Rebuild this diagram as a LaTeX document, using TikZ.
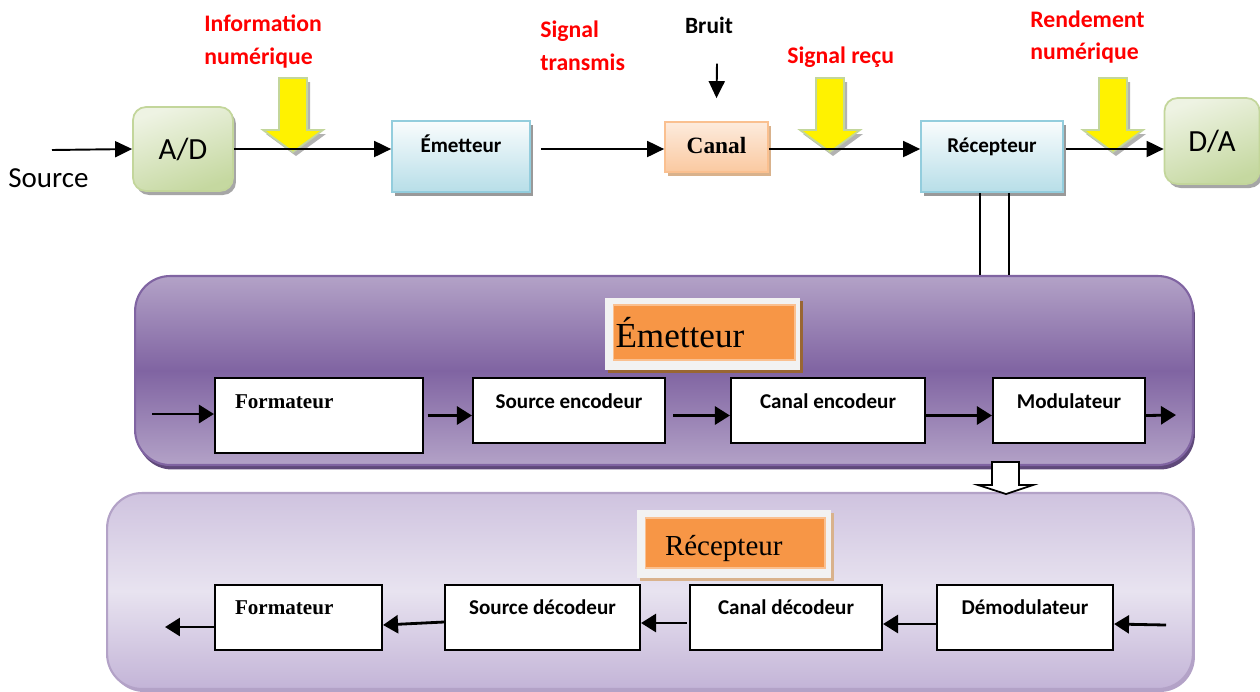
\documentclass[tikz,border=0pt]{standalone}
\usepackage{fontspec}
\setmainfont{Liberation Serif}
\setsansfont{Carlito}
\usetikzlibrary{arrows.meta,shadows,calc}

\definecolor{rouge}{HTML}{FF0000}
\definecolor{vertclair}{HTML}{EEF3E3}
\definecolor{vertfonce}{HTML}{C5D8A0}
\definecolor{vertbord}{HTML}{C3D69B}
\definecolor{bleuclair}{HTML}{F9FCFD}
\definecolor{bleufonce}{HTML}{B7DEE8}
\definecolor{bleubord}{HTML}{93CDDD}
\definecolor{orclair}{HTML}{FDEBDD}
\definecolor{orfonce}{HTML}{FAC9A0}
\definecolor{orbord}{HTML}{FAC090}
\definecolor{orange2}{HTML}{F79646}
\definecolor{violet}{HTML}{8064A2}
\definecolor{violetclair}{HTML}{B3A2C7}
\definecolor{violetfonce}{HTML}{5F497A}
\definecolor{lavande}{HTML}{E8E3F0}
\definecolor{lavande2}{HTML}{C3B4D7}

\tikzset{
  fleche/.style={line width=1.1pt,-{Triangle[length=3.4mm,width=3.2mm]}},
  fleche2/.style={line width=1.6pt,-{Triangle[length=3mm,width=3.6mm]}},
  haut/.style={text height=2.4mm,text depth=#1},
  convbox/.style={draw=vertbord,line width=1pt,rounded corners=2.6mm,
    top color=vertclair,bottom color=vertfonce,shading angle=20,
    drop shadow={shadow xshift=0.6mm,shadow yshift=-0.8mm,fill=gray!70,opacity=1},
    font=\sffamily\fontsize{17.5}{20}\selectfont},
  bleubox/.style={draw=bleubord,line width=1pt,top color=bleuclair,bottom color=bleufonce,
    drop shadow={shadow xshift=0.6mm,shadow yshift=-0.8mm,fill=gray!80,opacity=1},
    font=\sffamily\bfseries\fontsize{12}{14}\selectfont},
  canalbox/.style={draw=orbord,line width=1pt,top color=orclair,bottom color=orfonce,
    drop shadow={shadow xshift=0.6mm,shadow yshift=-0.8mm,fill=brown!60,opacity=1},
    font=\bfseries\fontsize{13.3}{15}\selectfont},
  etiq/.style={text=rouge,font=\sffamily\bfseries\fontsize{13.5}{18.7}\selectfont,
    align=left,anchor=west,inner sep=0pt},
  blanc/.style={draw,line width=1.2pt,fill=white,inner sep=0pt,
    font=\sffamily\bfseries\fontsize{12}{14}\selectfont},
  formbox/.style={blanc,font=\bfseries\fontsize{12}{14}\selectfont,align=left,inner xsep=4mm},
  cadre/.style={rounded corners=7mm,line width=1.2pt},
  titre/.style={fill=black!5,inner sep=0pt,
    drop shadow={shadow xshift=0.6mm,shadow yshift=-0.6mm,fill=#1,opacity=1}},
  titreor/.style={fill=orange2,draw=orbord,line width=0.6pt,align=left,inner ysep=0pt},
  jaune/.style={fill=yellow,draw=vertbord,line width=1pt,
    drop shadow={shadow xshift=0.6mm,shadow yshift=-0.8mm,fill=gray!60,opacity=1}}
}

% fleche jaune verticale, centre x = #1
\newcommand{\flechejaune}[1]{
\path[jaune] ({#1-14},78) -- ({#1+14},78) -- ({#1+14},130) -- ({#1+30},130)
  -- (#1,152) -- ({#1-30},130) -- ({#1-14},130) -- cycle;
}

\begin{document}
\begin{tikzpicture}[x=0.02cm,y=-0.02cm]
\useasboundingbox (0,0) rectangle (1260,691);

% chaine du haut
\node[convbox,minimum width=20mm,minimum height=16.8mm] (ad) at (183,149) {A/D};
\node[convbox,minimum width=19mm,minimum height=17.2mm] (da) at (1212,141) {D/A};
\node[bleubox,haut=4.2mm,minimum width=27.6mm,minimum height=14.2mm] (emet) at (461,156.5) {Émetteur};
\node[canalbox,minimum width=20.6mm,minimum height=10mm,text height=3.1mm,text depth=0.6mm] (canal) at (716.5,147) {Canal};
\node[bleubox,haut=4.2mm,minimum width=28.4mm,minimum height=14.2mm] (rec) at (992,156.5) {Récepteur};

\node[anchor=west,font=\sffamily\fontsize{16.5}{18}\selectfont,inner sep=0pt] (source) at (8,178) {Source};
\node[etiq] (info) at (204,41.5) {Information\\numérique};
\node[etiq] (trans) at (540,45.5) {Signal\\transmis};
\node[etiq] (recu) at (787,57) {Signal reçu};
\node[etiq] (rend) at (1030,37) {Rendement\\numérique};
\node[font=\sffamily\bfseries\fontsize{13.3}{15}\selectfont,inner sep=0pt] (bruit) at (709,25) {Bruit};

\flechejaune{293}
\flechejaune{830}
\flechejaune{1113}

\coordinate (src) at (52,150);
\draw[fleche] (src) -- (ad.west);
\draw[fleche] (ad.east) -- (ad.east -| emet.west);
\draw[fleche] ($(emet.east |- canal.west)+(10,2)$) -- ($(canal.west)+(0,2)$);
\draw[fleche] ($(canal.east)+(0,2)$) -- ($(canal.east -| rec.west)+(0,2)$);
\draw[fleche] ($(rec.east |- canal.east)+(2,2)$) -- ($(canal.east -| da.west)+(0,2)$);
\draw[fleche] ($(bruit.south)+(8,30)$) -- ($(canal.north)+(0,-23)$);

% bloc emetteur
\node[cadre,draw=violet,top color=violetclair,bottom color=violetclair,middle color=violet,
  drop shadow={shadow xshift=0.4mm,shadow yshift=-0.9mm,fill=violetfonce,opacity=1},
  minimum width=211.6mm,minimum height=37.8mm] (emframe) at (664,370.5) {};
\node[titre=brown!80!black,minimum width=39mm,minimum height=14.4mm] (etitre) at (702.5,334) {};
\node[titreor,text width=35.4mm,inner xsep=0.5mm,minimum height=11mm,
  font=\fontsize{20}{22}\selectfont] (etxt) at (704,332.5) {Émetteur};

\node[formbox,haut=5.4mm,text width=33.6mm,minimum height=15mm] (f1) at (319,415.5) {Formateur};
\node[blanc,haut=3.4mm,minimum width=38.4mm,minimum height=13mm] (se) at (569,410.5) {Source encodeur};
\node[blanc,haut=3.4mm,minimum width=38.8mm,minimum height=13mm] (ce) at (828,410.5) {Canal encodeur};
\node[blanc,haut=3.4mm,minimum width=30.4mm,minimum height=13mm] (mod) at (1069,410.5) {Modulateur};

\coordinate (ein) at (152,414);
\coordinate (eout) at (1176,415);
\draw[fleche2] (ein) -- (ein -| f1.west);
\draw[fleche2] ([xshift=2pt]f1.east) -- (f1.east -| se.west);
\draw[fleche2] ([xshift=4pt]f1.east -| se.east) -- (f1.east -| ce.west);
\draw[fleche2] (f1.east -| ce.east) -- (f1.east -| mod.west);
\draw[fleche2] (f1.east -| mod.east) -- (eout);

% liaison recepteur
\coordinate (v1) at ($(rec.south)+(-12,0)$);
\coordinate (v2) at ($(rec.south)+(17,0)$);
\draw[line width=1pt] (v1) -- (v1 |- emframe.north);
\draw[line width=1pt] (v2) -- (v2 |- emframe.north);

% bloc recepteur
\node[cadre,draw=violetclair,top color=lavande2!80!white,bottom color=lavande2,middle color=lavande,
  drop shadow={shadow xshift=0.4mm,shadow yshift=-0.6mm,fill=violetclair,opacity=1},
  minimum width=217.2mm,minimum height=39.2mm] (reframe) at (650,591) {};
\node[titre=brown!60,minimum width=38.8mm,minimum height=13.6mm] (rtitre) at (734,544) {};
\node[titreor,text width=28mm,inner xsep=4mm,minimum height=10mm,text height=5mm,text depth=0mm,
  font=\fontsize{16.5}{18}\selectfont] (rtxt) at (735,543) {Récepteur};

\draw[line width=1pt,fill=white] (992,462) -- (1019,462) -- (1019,485) -- (1033,485)
  -- (1006,494) -- (978,485) -- (992,485) -- cycle;

\node[formbox,haut=3.8mm,text width=25.4mm,minimum height=13mm] (fb) at (298.5,617.5) {Formateur};
\node[blanc,haut=3.8mm,minimum width=39mm,minimum height=13mm] (sd) at (542.5,617.5) {Source décodeur};
\node[blanc,haut=3.8mm,minimum width=38.4mm,minimum height=13mm] (cd) at (786,617.5) {Canal décodeur};
\node[blanc,haut=3.8mm,minimum width=35.2mm,minimum height=13mm] (dem) at (1025,617.5) {Démodulateur};

\coordinate (rin) at (1166,625);
\coordinate (rout) at (165,627);
\draw[fleche2] (rin) -- ($(rin -| dem.east)+(0,-1)$);
\draw[fleche2] ($(rin -| dem.west)+(0,-1)$) -- ($(rin -| cd.east)+(0,-1)$);
\draw[fleche2] ($(rin -| cd.west)+(-2,-2)$) -- ($(rin -| sd.east)+(0,-2)$);
\draw[fleche2] ($(rin -| sd.west)+(0,-3)$) -- ($(rin -| fb.east)+(0,0)$);
\draw[fleche2] ($(rout -| fb.west)$) -- (rout);
\end{tikzpicture}
\end{document}
